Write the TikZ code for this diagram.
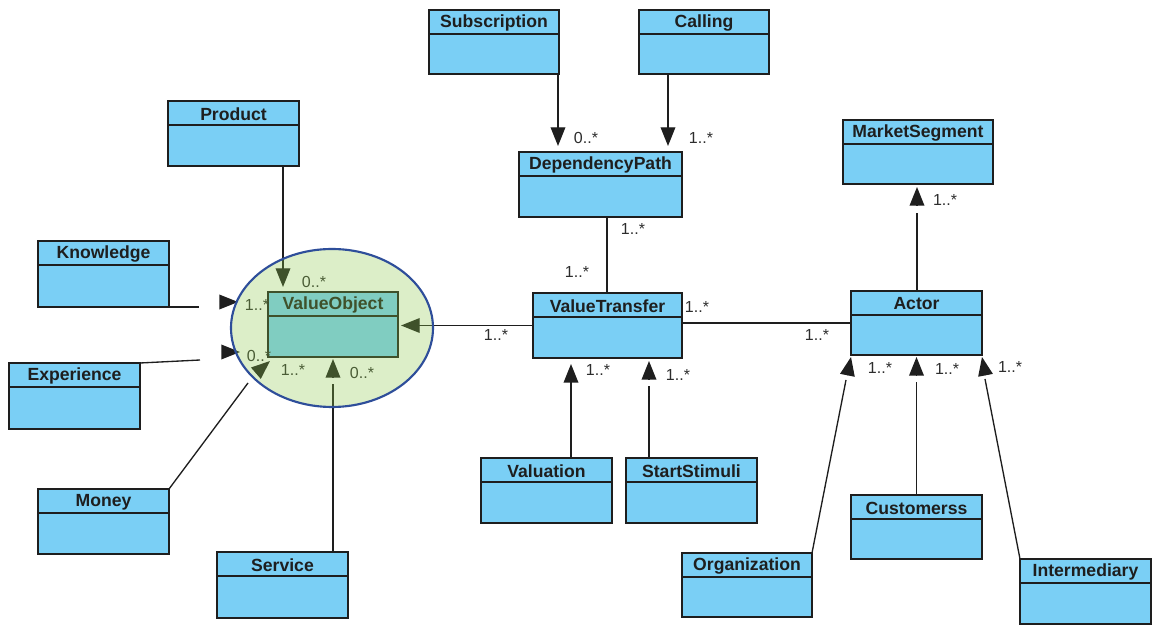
\documentclass[tikz,border=0pt]{standalone}
\usepackage{fontspec}
\setmainfont{Liberation Sans}
\usetikzlibrary{arrows.meta,calc}
\definecolor{clsfill}{RGB}{122,207,245}
\definecolor{clsline}{RGB}{30,30,30}
\definecolor{multc}{RGB}{45,45,45}
\definecolor{ovfill}{RGB}{142,202,75}
\definecolor{ovline}{RGB}{46,78,154}
\tikzset{
  clsbox/.style={draw=clsline, fill=clsfill, line width=1.1pt, inner sep=0pt, outer sep=0pt, anchor=north west},
  clstitle/.style={font=\bfseries\fontsize{13.2}{15}\selectfont, text=clsline, inner sep=0pt},
  mult/.style={font=\fontsize{12}{14}\selectfont, text=multc, inner sep=0pt},
  conn/.style={draw=clsline, line width=1pt},
  arr/.style={-{Triangle[length=14pt,width=11pt]}},
}
\newcommand\umlclass[6]{%
  \node[clsbox, minimum width={(#4-#2)*0.75pt}, minimum height={(#5-#3)*0.75pt}] (#1) at (#2,#3) {};
  \draw[line width=1.1pt, draw=clsline] ($(#1.north west)+(0,24)$) -- ($(#1.north east)+(0,24)$);
  \node[clstitle] (#1-t) at ($(#1.north)+(0,13)$) {#6};
}
\begin{document}
\begin{tikzpicture}[x=0.75pt,y=-0.75pt]
\useasboundingbox[fill=white] (0,0) rectangle (1154,630);
% classes
\umlclass{sub}{429}{10}{559}{74}{Subscription}
\umlclass{call}{639}{10}{769}{74}{Calling}
\umlclass{dep}{519}{152}{682}{217}{DependencyPath}
\umlclass{prod}{168}{101}{299}{166}{Product}
\umlclass{know}{38}{241}{169}{307}{Knowledge}
\umlclass{exp}{9}{363}{140}{429}{Experience}
\umlclass{money}{38}{489}{169}{554}{Money}
\umlclass{serv}{217}{552}{348}{618}{Service}
\umlclass{vo}{268}{292}{398}{357}{ValueObject}
\umlclass{vt}{533}{293}{682}{358}{ValueTransfer}
\umlclass{val}{481}{458}{612}{523}{Valuation}
\umlclass{ss}{626}{458}{757}{523}{StartStimuli}
\umlclass{ms}{843}{120}{993}{184}{MarketSegment}
\umlclass{actor}{851}{291}{982}{355}{Actor}
\umlclass{cust}{851}{495}{982}{559}{Customerss}
\umlclass{org}{682}{553}{812}{617}{Organization}
\umlclass{inter}{1020}{559}{1151}{624}{Intermediary}
% connectors top
\draw[conn,arr] ($(sub.south west)+(129,0)$) -- ($(dep.north west)+(39,-6)$);
\draw[conn,arr] ($(call.south west)+(29,0)$) -- ($(dep.north west)+(149,-6)$);
\draw[conn] ($(dep.south west)+(88,0)$) -- ($(vt.north west)+(74,0)$);
\draw[conn] (vt.east |- actor.west) -- (actor.west);
\draw[conn,arr] (vt.west) -- ($(vo.east)+(3,1)$);
\draw[conn,arr] ($(val.north west)+(90,0)$) -- ($(vt.south west)+(38,6)$);
\draw[conn] ($(ss.north west)+(23,0)$) -- ($(vt.south west)+(116,28)$);
\draw[conn,arr] ($(vt.south west)+(116,21.5)$) -- ($(vt.south west)+(116,3)$);
\draw[conn] ($(actor.north west)+(66,0)$) -- ($(ms.south west)+(74,29)$);
\draw[conn,arr] ($(ms.south west)+(74,21.5)$) -- ($(ms.south west)+(74,3)$);
\draw[conn] (cust.north) -- ($(actor.south)+(0,27)$);
\draw[conn,arr] ($(actor.south)+(0,20.5)$) -- ($(actor.south)+(0,2)$);
\draw[conn] (org.north east) -- ($(actor.south west)+(-5,25)$);
\draw[conn,arr] ($(actor.south west)+(-3.6,20.2)$) -- ($(actor.south west)+(0,2)$);
\draw[conn] (inter.north west) -- ($(actor.south east)+(3,24)$);
\draw[conn,arr] ($(actor.south east)+(3.5,20.2)$) -- ($(actor.south east)+(0,2)$);
% connectors left
\draw[conn,arr] ($(prod.south west)+(115,0)$) -- ($(vo.north west)+(15,-5)$);
\draw[conn] (know.south east) -- ($(know.south east)+(30,0)$);
\draw[conn,arr] ($(vo.north west)+(-48.5,10)$) -- ($(vo.north west)+(-30,10)$);
\draw[conn] (exp.north east) -- ($(exp.north east)+(60,-3)$);
\draw[conn,arr] ($(vo.south west)+(-46.5,-5)$) -- ($(vo.south west)+(-28,-5)$);
\draw[conn] (money.north east) -- ($(vo.south west)+(-20,26)$);
\draw[conn,arr] ($(vo.south west)+(-12,16.1)$) -- ($(vo.south west)+(2,4)$);
\draw[conn] ($(serv.north west)+(116,0)$) -- ($(vo.south west)+(65,27)$);
\draw[conn,arr] ($(vo.south west)+(65,20.5)$) -- ($(vo.south west)+(65,2)$);
% multiplicities
\node[mult] (m1) at (586,138) {0..*};
\node[mult] (m2) at (701,138) {1..*};
\node[mult] (m3) at (633,229) {1..*};
\node[mult] (m4) at (577,272) {1..*};
\node[mult] (m5) at (496,335) {1..*};
\node[mult] (m6) at (697,307) {1..*};
\node[mult] (m7) at (817,335) {1..*};
\node[mult] (m8) at (598,370) {1..*};
\node[mult] (m9) at (678,375) {1..*};
\node[mult] (m10) at (945,200) {1..*};
\node[mult] (m11) at (880,368) {1..*};
\node[mult] (m12) at (947,369) {1..*};
\node[mult] (m13) at (1010,367) {1..*};
\node[mult] (m14) at (314,282) {0..*};
\node[mult] (m15) at (257,305) {1..*};
\node[mult] (m16) at (259,356) {0..*};
\node[mult] (m17) at (293,370) {1..*};
\node[mult] (m18) at (362,373) {0..*};
% highlight overlay
\path[draw=ovline, line width=1.6pt, fill=ovfill, fill opacity=0.3] (332,328) ellipse [x radius=75.75pt, y radius=59.25pt];
\end{tikzpicture}
\end{document}
